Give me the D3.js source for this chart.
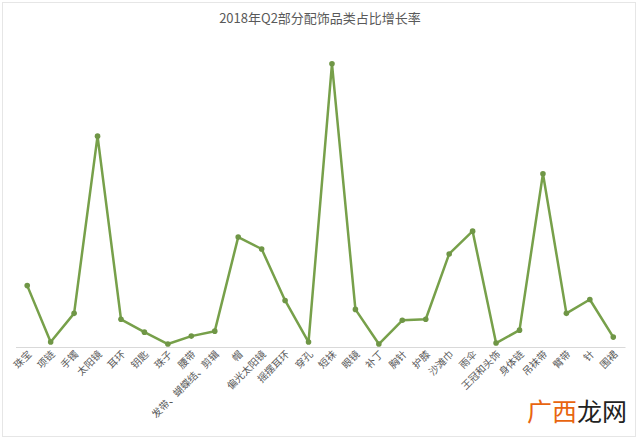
<!DOCTYPE html>
<html><head><meta charset="utf-8">
<script src="https://cdn.jsdelivr.net/npm/d3@7"></script>
<style>body{margin:0;background:#fff;}svg{display:block;}</style>
</head><body>
<svg id="c" width="640" height="439"></svg>
<script>
const title = "2018年Q2部分配饰品类占比增长率";
const categories = ["珠宝","项链","手镯","太阳镜","耳环","钥匙","珠子","腰带","发带、蝴蝶结、剪辑","帽","偏光太阳镜","摇摆耳环","穿孔","短袜","眼镜","补丁","胸针","护膝","沙滩巾","雨伞","王冠和头饰","身体链","吊袜带","臂带","针","围裙"];
const growth = [6.2,0.5,3.4,21.3,2.8,1.5,0.3,1.1,1.6,11.1,9.9,4.7,0.5,28.6,3.8,0.3,2.7,2.8,9.4,11.7,0.4,1.7,17.5,3.4,4.8,1.0];

const svg = d3.select("#c");
const font = "'Noto Sans CJK SC','Noto Sans',sans-serif";

// frame
svg.append("rect").attr("x",2.5).attr("y",2.5).attr("width",633).attr("height",434)
  .attr("fill","none").attr("stroke","#e6e6e6");

svg.append("text").attr("x",320).attr("y",23).attr("text-anchor","middle")
  .attr("font-family",font).attr("font-size",13).attr("fill","#595959").text(title);

const x = d3.scaleBand().domain(categories).range([15.5,625]).padding(0);
const y = d3.scaleLinear().domain([0,30]).range([347,50]);
const cx = d => x(d) + x.bandwidth()/2;

const axis = svg.append("g").attr("transform","translate(0,347)")
  .call(d3.axisBottom(x).tickSize(0).tickPadding(0));
axis.select(".domain").attr("stroke","#d9d9d9").attr("stroke-width",1.2);
axis.selectAll("text").attr("font-family",font).attr("font-size",10).attr("fill","#595959")
  .attr("text-anchor","end").attr("dy",0).attr("dx",0)
  .attr("transform","translate(5,8) rotate(-45)");

const data = categories.map((c,i)=>({c, v:growth[i]}));
const line = d3.line().x(d=>cx(d.c)).y(d=>y(d.v));
svg.append("path").datum(data).attr("d",line).attr("fill","none")
  .attr("stroke","#77a04a").attr("stroke-width",2.5).attr("stroke-linejoin","round");
svg.selectAll("circle.p").data(data).join("circle").attr("class","p")
  .attr("cx",d=>cx(d.c)).attr("cy",d=>y(d.v)).attr("r",2.8).attr("fill","#6f9646");

// watermark
const wm = svg.append("text").attr("x",527).attr("y",421).attr("font-family",font).attr("font-size",25);
wm.append("tspan").attr("fill","#e8650f").text("广西");
wm.append("tspan").attr("fill","#222").text("龙网");
</script>
</body></html>
